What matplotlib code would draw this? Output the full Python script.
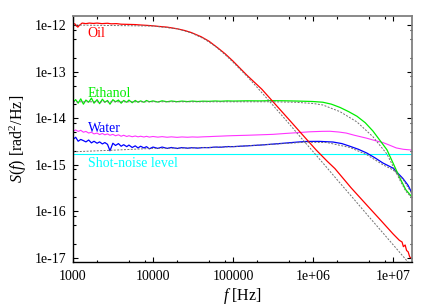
import numpy as np
import matplotlib
matplotlib.use("Agg")
import matplotlib.pyplot as plt
from matplotlib.ticker import FixedLocator, LogLocator, NullFormatter

plt.rcParams["font.family"] = ["Liberation Serif", "DejaVu Serif"]
plt.rcParams["mathtext.fontset"] = "custom"
plt.rcParams["mathtext.rm"] = "Liberation Serif"
plt.rcParams["mathtext.it"] = "Liberation Serif:italic"

# frequency grid of the noisy low-frequency part (Hz)
f_low = [1000, 1080, 1160, 1250, 1350, 1450, 1570, 1700, 1830, 2000,
         2150, 2330, 2500, 2700, 2900, 3150, 3400, 3700, 4000, 4300,
         4700, 5000, 5500, 6000, 6500, 7000, 7700, 8300, 9000, 10000,
         11500, 13000, 15000, 17000, 20000, 23000, 27000, 31000, 36000, 42000,
         50000, 60000, 70000, 85000, 100000]

# Oil (red)
oil_f = [1000, 1060, 1100, 1150, 1200, 1300, 1450, 1600, 1800, 2000,
         2300, 2700, 3000, 3500, 4000, 5000, 6000, 7000, 8500, 1.0e4,
         1.2e4, 1.5e4, 2.0e4, 2.5e4, 3.0e4, 4.0e4, 5.0e4, 6.5e4, 8.0e4, 1.0e5,
         1.5e5, 2.29e5, 3.0e5, 5.0e5, 7.0e5, 1.09e6, 1.5e6, 1.88e6, 3.0e6, 5.0e6,
         7.0e6, 1.0e7, 1.2e7, 1.3e7, 1.35e7, 1.42e7, 1.48e7, 1.55e7, 1.62e7, 1.7e7]
oil_S = [1.08e-12, 1.05e-12, 9.6e-13, 9.0e-13, 9.8e-13, 1.10e-12, 1.07e-12, 1.10e-12, 1.08e-12, 1.10e-12,
         1.07e-12, 1.09e-12, 1.06e-12, 1.07e-12, 1.04e-12, 1.03e-12, 1.02e-12, 1.00e-12, 9.8e-13, 9.6e-13,
         9.3e-13, 9.0e-13, 8.3e-13, 7.6e-13, 6.9e-13, 5.6e-13, 4.5e-13, 3.2e-13, 2.4e-13, 1.68e-13,
         8.3e-14, 4.2e-14, 2.5e-14, 9.4e-15, 4.9e-15, 2.1e-15, 1.2e-15, 8.3e-16, 3.2e-16, 1.22e-16,
         6.5e-17, 3.3e-17, 2.4e-17, 2.2e-17, 1.75e-17, 1.9e-17, 1.45e-17, 1.35e-17, 1.05e-17, 1.0e-17]
oil_fit_f = [1000, 1.0e4, 2.0e4, 3.0e4, 4.4e4, 6.0e4, 8.0e4, 1.0e5, 1.5e5, 2.0e5,
             3.0e5, 5.0e5, 7.0e5, 1.0e6, 1.5e6, 2.0e6, 3.0e6, 5.0e6, 7.0e6, 1.0e7,
             1.3e7, 1.73e7]
oil_fit_S = [1.0e-12, 9.5e-13, 8.3e-13, 6.8e-13, 5.0e-13, 3.5e-13, 2.3e-13, 1.6e-13, 7.9e-14, 4.6e-14,
             2.1e-14, 7.7e-15, 3.9e-15, 1.93e-15, 8.6e-16, 4.8e-16, 2.15e-16, 7.7e-17, 3.95e-17, 1.94e-17,
             1.15e-17, 6.5e-18]

# Ethanol (green)
eth_low = [2.2, 2.5, 2.1, 2.6, 2.0, 2.45, 2.2, 2.7, 2.1, 2.5,
           2.05, 2.55, 2.2, 2.4, 2.0, 2.5, 2.25, 2.45, 2.1, 2.4,
           2.2, 2.45, 2.15, 2.4, 2.2, 2.35, 2.2, 2.4, 2.25, 2.35,
           2.22, 2.36, 2.25, 2.34, 2.26, 2.33, 2.27, 2.33, 2.28, 2.32,
           2.3, 2.34, 2.31, 2.35, 2.33]
eth_high_f = [1.5e5, 2.2e5, 3.0e5, 4.5e5, 6.5e5, 1.0e6, 1.33e6, 1.7e6, 2.18e6, 2.8e6,
              3.55e6, 4.5e6, 5.62e6, 7.0e6, 8.41e6, 1.0e7, 1.22e7, 1.45e7, 1.73e7]
eth_high = [2.36, 2.35, 2.38, 2.36, 2.33, 2.28, 2.2, 2.0, 1.7, 1.38,
            1.1, 0.8, 0.53, 0.32, 0.21, 0.11, 0.052, 0.029, 0.0204]
eth_fit_f = [1000, 3.0e5, 6.0e5, 1.0e6, 1.33e6, 2.18e6, 3.55e6, 5.62e6, 8.41e6, 1.0e7,
             1.22e7, 1.45e7, 1.73e7]
eth_fit = [2.25, 2.25, 2.2, 2.07, 1.92, 1.38, 0.83, 0.40, 0.17, 0.094,
           0.047, 0.027, 0.0195]

# Water (blue)
wat_low = [3.5, 3.9, 3.2, 3.5, 3.3, 3.1, 3.4, 2.95, 3.2, 2.9,
           3.1, 2.8, 3.0, 2.75, 2.0, 2.9, 2.6, 2.85, 2.5, 2.7,
           2.45, 2.65, 2.35, 2.55, 2.3, 2.5, 2.3, 2.45, 2.2, 2.4,
           2.25, 2.4, 2.25, 2.35, 2.24, 2.34, 2.27, 2.33, 2.28, 2.34,
           2.33, 2.4, 2.38, 2.46, 2.45]
wat_high_f = [1.5e5, 2.2e5, 3.16e5, 4.5e5, 6.5e5, 8.4e5, 1.2e6, 1.78e6, 2.3e6, 2.89e6,
              3.7e6, 4.7e6, 6.0e6, 7.5e6, 1.0e7, 1.33e7, 1.55e7, 1.73e7]
wat_high = [2.55, 2.65, 2.78, 2.92, 3.08, 3.17, 3.18, 3.08, 2.85, 2.5,
            2.15, 1.79, 1.4, 1.09, 0.85, 0.51, 0.36, 0.245]
wat_fit_f = [1000, 3000, 1.0e4, 3.0e4, 1.0e5, 3.0e5, 8.0e5, 1.5e6, 2.9e6, 4.7e6,
             7.5e6, 1.0e7, 1.33e7, 1.73e7]
wat_fit = [1.9, 2.05, 2.25, 2.3, 2.45, 2.75, 3.05, 3.0, 2.35, 1.65,
           1.0, 0.78, 0.49, 0.24]

# unlabelled magenta trace
mag_low = [5.2, 5.6, 5.2, 5.5, 5.0, 5.2, 4.8, 5.0, 4.6, 4.8,
           4.45, 4.7, 4.4, 4.6, 4.3, 4.5, 4.2, 4.4, 4.1, 4.3,
           4.05, 4.2, 4.0, 4.15, 3.98, 4.1, 3.95, 4.08, 3.93, 4.05,
           3.92, 4.02, 3.9, 3.98, 3.88, 3.96, 3.9, 3.96, 3.92, 3.98,
           4.02, 4.08, 4.12, 4.18, 4.22]
mag_high_f = [1.5e5, 2.2e5, 3.16e5, 4.5e5, 6.5e5, 9.0e5, 1.3e6, 1.63e6, 2.1e6, 2.6e6,
              3.3e6, 4.7e6, 6.0e6, 7.5e6, 9.0e6, 1.1e7, 1.35e7, 1.73e7]
mag_high = [4.3, 4.4, 4.5, 4.7, 4.9, 5.1, 5.22, 5.24, 5.05, 4.8,
            4.3, 3.72, 3.3, 3.0, 2.65, 2.3, 2.15, 2.07]

# shot-noise level
shot_f = [1000, 1.73e7]
shot_S = [1.7e-15, 1.7e-15]

xticks = [1e3, 1e4, 1e5, 1e6, 1e7]
xticklabels = ["1000", "10000", "100000", "1e+06", "1e+07"]
yticks = [1e-17, 1e-16, 1e-15, 1e-14, 1e-13, 1e-12]
yticklabels = ["1e-17", "1e-16", "1e-15", "1e-14", "1e-13", "1e-12"]

fig = plt.figure(figsize=(4.36, 3.05), dpi=100)
ax = fig.add_axes([73 / 436, 1 - 262 / 305, 339 / 436, 246 / 305])

eth_f = f_low + eth_high_f
eth_S = np.array(eth_low + eth_high) * 1e-14
wat_f = f_low + wat_high_f
wat_S = np.array(wat_low + wat_high) * 1e-15
mag_f = f_low + mag_high_f
mag_S = np.array(mag_low + mag_high) * 1e-15

ax.plot(shot_f, shot_S, color="#00ffff", lw=0.8)
ax.plot(mag_f, mag_S, color="#ff33ff", lw=0.8)
ax.plot(wat_f, wat_S, color="#0000ff", lw=0.9)
ax.plot(eth_f, eth_S, color="#00ee00", lw=0.9)
ax.plot(oil_f, oil_S, color="#ff0000", lw=0.9)

dash = dict(color="#707070", lw=0.7, ls=(0, (2, 1.5)))
ax.plot(oil_fit_f, oil_fit_S, **dash)
ax.plot(eth_fit_f, np.array(eth_fit) * 1e-14, **dash)
ax.plot(wat_fit_f, np.array(wat_fit) * 1e-15, **dash)

ax.set_xscale("log")
ax.set_yscale("log")
ax.set_xlim(1000, 1.73e7)
ax.set_ylim(8.2e-18, 1.56e-12)

ax.set_xticks(xticks)
ax.set_xticklabels(xticklabels)
ax.set_yticks(yticks)
ax.set_yticklabels(yticklabels)
ax.xaxis.set_minor_locator(LogLocator(base=10, subs=(2, 5, 8)))
ax.yaxis.set_minor_locator(LogLocator(base=10, subs=(2, 5, 8)))
ax.xaxis.set_minor_formatter(NullFormatter())
ax.yaxis.set_minor_formatter(NullFormatter())
ax.tick_params(which="both", direction="in", top=True, right=True,
               labelsize=10, color="black", width=0.8)
ax.tick_params(which="major", length=3.5)
ax.tick_params(which="minor", length=1.8)
ax.tick_params(axis="x", pad=6)
ax.tick_params(axis="y", pad=5)

for s in ("left", "bottom"):
    ax.spines[s].set_color("black")
    ax.spines[s].set_linewidth(1.0)
for s in ("top", "right"):
    ax.spines[s].set_color("#808080")
    ax.spines[s].set_linewidth(1.3)

ax.set_xlabel(r"$f$ [Hz]", fontsize=11.5, labelpad=2)
ax.set_ylabel(r"$S(f)$ [rad$^2$/Hz]", fontsize=11.5, labelpad=4)

fig.text(87.7 / 436, 1 - 37 / 305, "Oil", color="#ff0000", fontsize=10, va="baseline")
fig.text(87.7 / 436, 1 - 97 / 305, "Ethanol", color="#00ee00", fontsize=10, va="baseline")
fig.text(87.7 / 436, 1 - 131.7 / 305, "Water", color="#0000ff", fontsize=10, va="baseline")
fig.text(87.7 / 436, 1 - 167.3 / 305, "Shot-noise level", color="#00ffff", fontsize=10, va="baseline")

fig.savefig("out.png", dpi=100)
